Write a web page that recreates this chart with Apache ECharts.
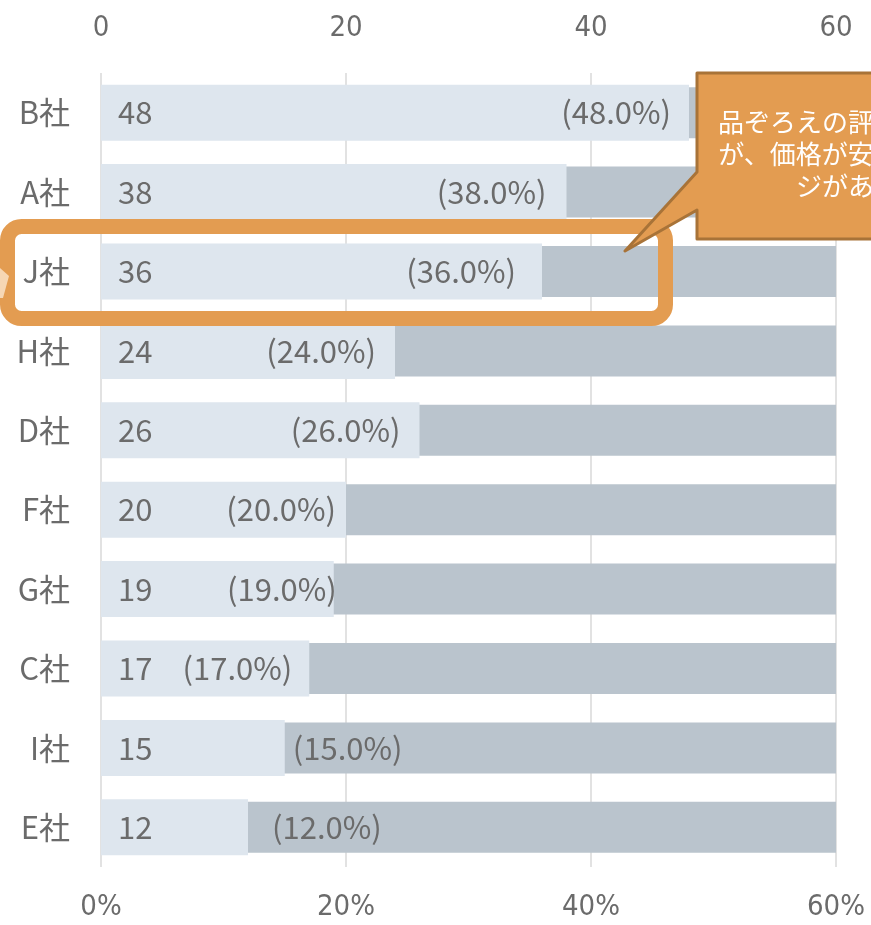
<!DOCTYPE html>
<html>
<head>
<meta charset="utf-8">
<script src="https://cdn.jsdelivr.net/npm/echarts@6/dist/echarts.min.js"></script>
<style>
  html, body { margin: 0; padding: 0; background: #fff; }
  #main { width: 871px; height: 925px; }
</style>
</head>
<body>
<div id="main"></div>
<script>
  // 会社（上から順）
  var companies = ['B社', 'A社', 'J社', 'H社', 'D社', 'F社', 'G社', 'C社', 'I社', 'E社'];
  // 回答数
  var counts = [48, 38, 36, 24, 26, 20, 19, 17, 15, 12];
  // 構成比（%）
  var shares = [48.0, 38.0, 36.0, 24.0, 26.0, 20.0, 19.0, 17.0, 15.0, 12.0];
  // 全体（%）
  var totalShare = [100, 100, 100, 100, 100, 100, 100, 100, 100, 100];
  // 軸目盛
  var countTicks = [0, 20, 40, 60];
  var shareTicks = [0, 20, 40, 60];

  var calloutLines = ['品ぞろえの評価は低い', 'が、価格が安いイメー', 'ジがある'];

  // ラベル位置の微調整（Excel側で手動配置されていたもの）
  var pctLabelShift = [-18, -20, -26, -19, -19, -10, 3, -17, null, null];
  var pctLabelOutside = [null, null, null, null, null, null, null, null, 8, 24];

  var textColor = '#6b6b6b';
  var jpFont = '"Noto Sans CJK JP", "Noto Sans", sans-serif';
  var narrowFont = '"Liberation Sans Narrow", "DejaVu Sans Condensed", "Roboto Condensed", "Liberation Sans", sans-serif';

  var chart = echarts.init(document.getElementById('main'));

  // 構成比ラベル
  var pctData = shares.map(function (v, i) {
    var item = { value: v };
    if (pctLabelOutside[i] !== null) {
      item.label = { position: 'right', distance: pctLabelOutside[i] };
    } else {
      item.label = { position: 'insideRight', distance: 0, offset: [pctLabelShift[i], 0] };
    }
    return item;
  });

  var option = {
    animation: false,
    grid: { left: 101, right: 35, top: 73, bottom: 58, containLabel: false },
    xAxis: [
      {
        type: 'value', position: 'top',
        min: countTicks[0], max: countTicks[countTicks.length - 1], interval: countTicks[1] - countTicks[0],
        axisLine: { show: false }, axisTick: { show: false },
        splitLine: { show: true, lineStyle: { color: '#d9d9d9', width: 1.5 } },
        axisLabel: { color: textColor, fontSize: 29, fontFamily: narrowFont, margin: 30 }
      },
      {
        type: 'value', position: 'bottom',
        min: shareTicks[0], max: shareTicks[shareTicks.length - 1], interval: shareTicks[1] - shareTicks[0],
        axisLine: { show: false }, axisTick: { show: false }, splitLine: { show: false },
        axisLabel: { color: textColor, fontSize: 29, fontFamily: narrowFont, margin: 26, formatter: '{value}%' }
      }
    ],
    yAxis: [
      {
        type: 'category', inverse: true, data: companies,
        axisLine: { show: false }, axisTick: { show: false },
        axisLabel: { color: textColor, fontSize: 31, fontFamily: jpFont, margin: 31 }
      },
      { type: 'category', inverse: true, data: companies, show: false }
    ],
    series: [
      {
        name: '全体', type: 'bar', xAxisIndex: 1, yAxisIndex: 1,
        data: totalShare, barWidth: 51, clip: true, z: 1,
        itemStyle: { color: '#bac4cd' }, silent: true
      },
      {
        name: '回答数', type: 'bar', xAxisIndex: 0, yAxisIndex: 0,
        data: counts, barWidth: 56, z: 2,
        itemStyle: { color: '#dee6ee' },
        label: {
          show: true, position: 'insideLeft', distance: 17,
          color: textColor, fontSize: 31, fontFamily: jpFont
        }
      },
      {
        name: '構成比', type: 'bar', xAxisIndex: 1, yAxisIndex: 0,
        data: pctData, barWidth: 56, barGap: '-100%', z: 3,
        itemStyle: { color: 'rgba(0,0,0,0)' },
        label: {
          show: true, color: textColor, fontSize: 31, fontFamily: jpFont,
          formatter: function (p) { return '(' + p.value.toFixed(1) + '%)'; }
        }
      }
    ],
    graphic: [
      {
        type: 'rect', z: 11,
        shape: { x: 7.5, y: 226.5, width: 658, height: 92, r: 14 },
        style: { fill: 'none', stroke: '#e39c51', lineWidth: 15 }
      },
      {
        type: 'polygon', z: 12,
        shape: { points: [[0, 268], [9, 276], [3, 298], [0, 298]] },
        style: { fill: '#f6d7b5' }
      },
      {
        type: 'polygon', z: 12,
        shape: { points: [[697, 73], [1000, 73], [1000, 239], [697, 239], [697, 210], [625, 251], [697, 172]] },
        style: { fill: '#e39c51', stroke: '#a87338', lineWidth: 3, lineJoin: 'round' }
      },
      {
        type: 'text', z: 13, x: 848, y: 106,
        style: {
          text: calloutLines.join('\n'), fill: '#ffffff',
          font: '26px "Noto Sans CJK JP", sans-serif', lineHeight: 32,
          align: 'center', verticalAlign: 'top'
        }
      }
    ]
  };

  chart.setOption(option);

  window.addEventListener('resize', function () {
    chart.resize();
  });
</script>
</body>
</html>
